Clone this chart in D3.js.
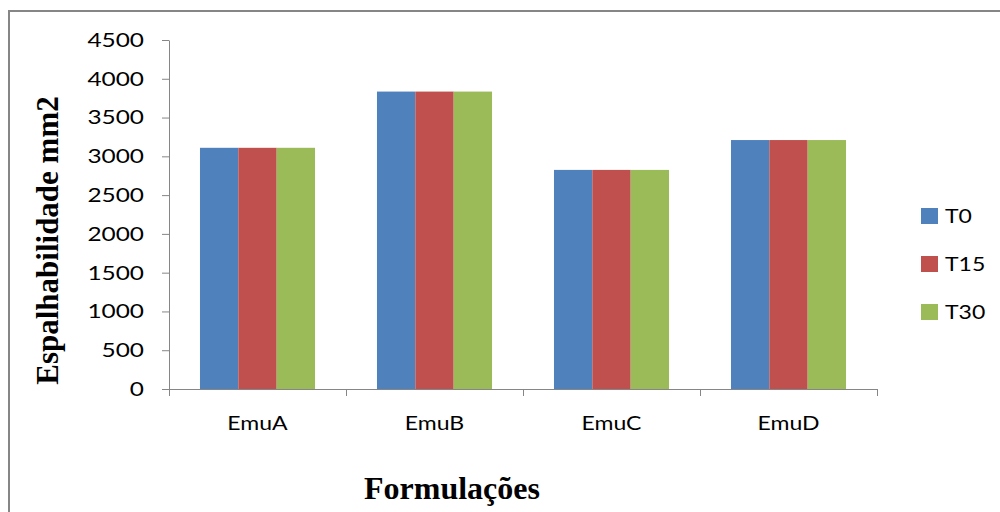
<!DOCTYPE html>
<html>
<head>
<meta charset="utf-8">
<script src="https://cdn.jsdelivr.net/npm/d3@7"></script>
<style>
  body { margin: 0; background: #fff; }
  svg { display: block; }
</style>
</head>
<body>
<div id="chart"></div>
<script>
// data
const categories = ["EmuA", "EmuB", "EmuC", "EmuD"];
const seriesNames = ["T0", "T15", "T30"];
const t0Values = [3110, 3835, 2825, 3210];
const t15Values = [3110, 3835, 2825, 3210];
const t30Values = [3110, 3835, 2825, 3210];
const yTickValues = [0, 500, 1000, 1500, 2000, 2500, 3000, 3500, 4000, 4500];
const seriesColors = ["#4f81bd", "#c0504d", "#9bbb59"];

const width = 1000, height = 512;
const margin = {top: 40, left: 169, right: 123, bottom: 123};
const axisColor = "#868686";
const labelFont = "Lato, 'Open Sans', sans-serif";
const titleFont = "'Liberation Serif', 'Times New Roman', serif";

// stretch text horizontally (the reference glyphs are wider than the fonts here)
function stretchText(sel, sx) {
	sel.each(function(){
		let len = this.getComputedTextLength();
		d3.select(this).attr("textLength", len * sx).attr("lengthAdjust", "spacingAndGlyphs");
	});
}

let rows = categories.map((c, i) => ({
	cat: c,
	vals: [t0Values[i], t15Values[i], t30Values[i]]
}));

let svg = d3.select("#chart").append("svg")
	.attr("width", width)
	.attr("height", height);

//outer frame (right and bottom edges lie off the picture)
svg.append("rect")
	.attr("x", 9).attr("y", 11)
	.attr("width", 1200).attr("height", 1000)
	.attr("fill", "none")
	.attr("stroke", axisColor)
	.attr("stroke-width", 2);

//scales
let x0 = d3.scaleBand()
	.domain(categories)
	.range([margin.left, width - margin.right]);

let gap = x0.bandwidth() * 0.175;
let x1 = d3.scaleBand()
	.domain(seriesNames)
	.range([gap, x0.bandwidth() - gap]);

let y = d3.scaleLinear()
	.domain([0, 4500])
	.range([height - margin.bottom, margin.top]);

//bars
let groups = svg.append("g").attr("class", "bars")
	.selectAll("g")
	.data(rows)
	.join("g")
	.attr("transform", d => `translate(${x0(d.cat)},0)`);

groups.selectAll("rect")
	.data(d => d.vals.map((v, i) => ({name: seriesNames[i], value: v, color: seriesColors[i]})))
	.join("rect")
	.attr("x", d => x1(d.name))
	.attr("y", d => y(d.value))
	.attr("width", x1.bandwidth())
	.attr("height", d => y(0) - y(d.value))
	.attr("fill", d => d.color);

//y axis
let yAxis = svg.append("g")
	.attr("transform", `translate(${margin.left},0)`)
	.call(d3.axisLeft(y).tickValues(yTickValues).tickFormat(d3.format("d")).tickSize(7).tickSizeOuter(0).tickPadding(18));
yAxis.select(".domain").attr("stroke", axisColor);
yAxis.selectAll(".tick line").attr("stroke", axisColor);
yAxis.selectAll(".tick text")
	.attr("fill", "#000")
	.style("font-family", labelFont)
	.style("font-size", "20px");
stretchText(yAxis.selectAll(".tick text"), 1.22);

//x axis: ticks on band boundaries
let xEdges = d3.scaleLinear().domain([0, categories.length]).range(x0.range());
let xAxis = svg.append("g")
	.attr("transform", `translate(0,${y(0)})`)
	.call(d3.axisBottom(xEdges).ticks(categories.length).tickFormat("").tickSize(7).tickSizeOuter(0));
xAxis.select(".domain").attr("stroke", axisColor);
xAxis.selectAll(".tick line").attr("stroke", axisColor);

let xLabels = svg.append("g")
	.attr("transform", `translate(0,${y(0)})`)
	.call(d3.axisBottom(x0).tickSize(0).tickPadding(27));
xLabels.select(".domain").remove();
xLabels.selectAll(".tick text")
	.attr("fill", "#000")
	.style("font-family", labelFont)
	.style("font-size", "20px");
stretchText(xLabels.selectAll(".tick text"), 1.15);

//axis titles
svg.append("text")
	.attr("x", 452)
	.attr("y", 499)
	.attr("text-anchor", "middle")
	.style("font-family", titleFont)
	.style("font-weight", "bold")
	.style("font-size", "32px")
	.text("Formulações");

svg.append("text")
	.attr("transform", `translate(58,${(y(0) + 92) / 2}) rotate(-90)`)
	.attr("text-anchor", "middle")
	.style("font-family", titleFont)
	.style("font-weight", "bold")
	.style("font-size", "31px")
	.text("Espalhabilidade mm2");

//legend
let legend = svg.append("g")
	.attr("transform", "translate(921,216)")
	.selectAll("g")
	.data(seriesNames)
	.join("g")
	.attr("transform", (d, i) => `translate(0,${i * 48})`);

legend.append("rect")
	.attr("x", 0).attr("y", -8)
	.attr("width", 17).attr("height", 16)
	.attr("fill", (d, i) => seriesColors[i]);

legend.append("text")
	.attr("x", 24)
	.attr("dy", "0.36em")
	.style("font-family", labelFont)
	.style("font-size", "20px")
	.text(d => d);
stretchText(legend.selectAll("text"), 1.15);
</script>
</body>
</html>
